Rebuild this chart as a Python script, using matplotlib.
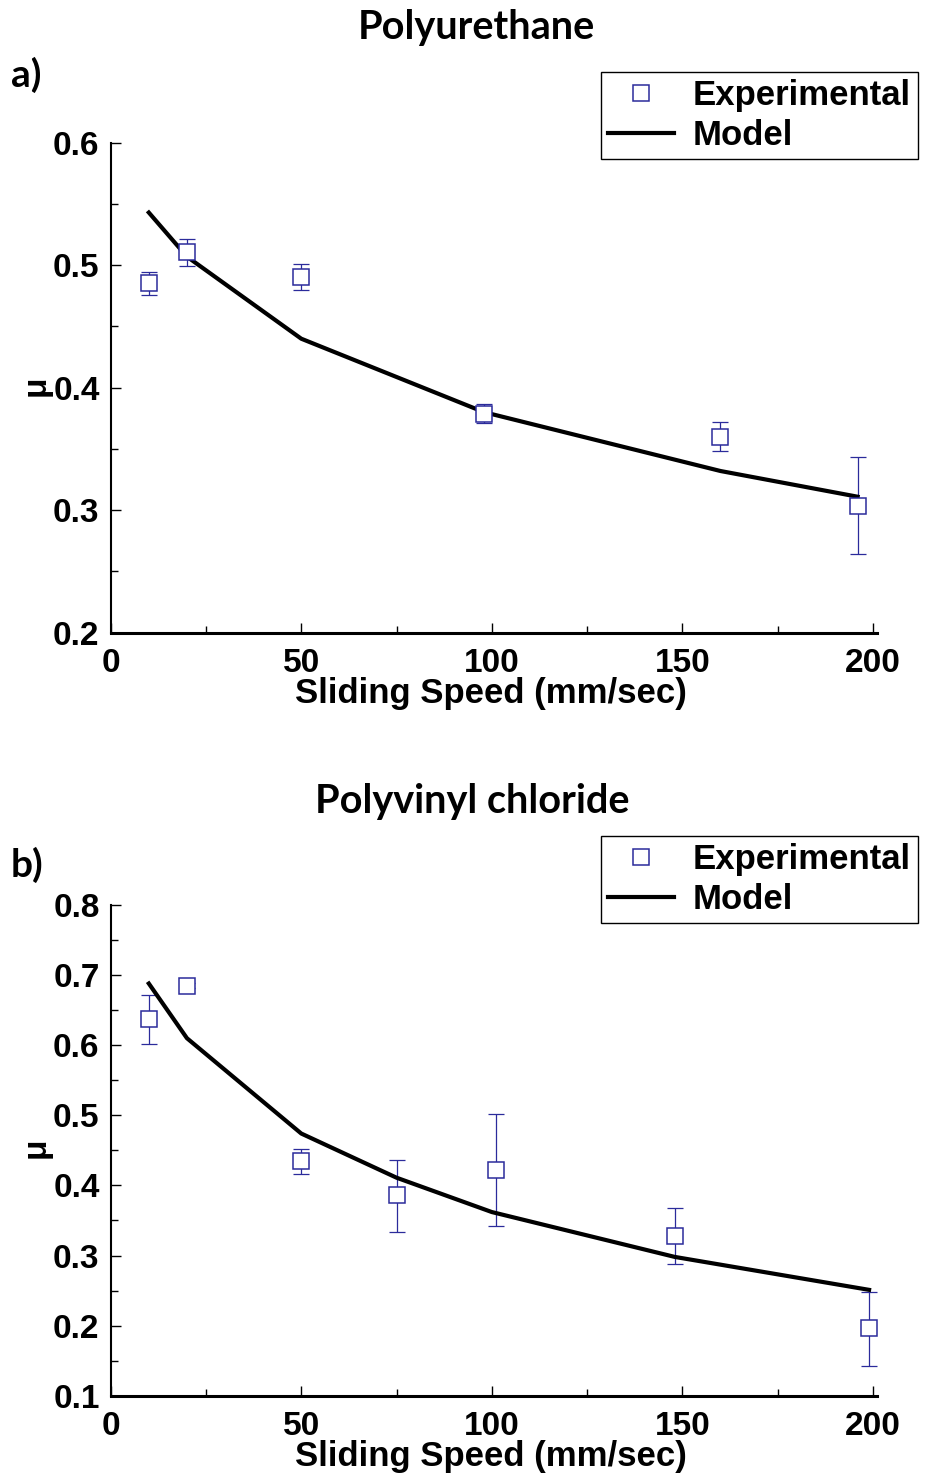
import numpy as np
from matplotlib import pyplot as plt
import matplotlib.ticker as mtick

plt.rcParams['font.family'] = ['Liberation Sans', 'DejaVu Sans']
plt.rcParams['font.weight'] = 'bold'

# Polyurethane (a)
pu_model_x = [10, 20, 50, 98, 160, 196]
pu_model_y = [0.543, 0.507, 0.440, 0.380, 0.332, 0.311]
pu_exp_x = [10, 20, 50, 98, 160, 196]
pu_exp_y = [0.4855, 0.511, 0.490, 0.3787, 0.3596, 0.3038]
pu_err_lo = [0.0095, 0.0118, 0.010, 0.0077, 0.0116, 0.0393]
pu_err_hi = [0.009, 0.010, 0.0106, 0.0083, 0.0123, 0.0395]

# Polyvinyl chloride (b)
pvc_model_x = [10, 20, 50, 75, 100, 148, 199]
pvc_model_y = [0.688, 0.610, 0.474, 0.411, 0.362, 0.298, 0.251]
pvc_exp_x = [10, 20, 50, 75, 101, 148, 199]
pvc_exp_y = [0.637, 0.685, 0.4344, 0.386, 0.4226, 0.3285, 0.196]
pvc_err_lo = [0.035, 0.004, 0.0184, 0.0527, 0.0803, 0.0404, 0.0537]
pvc_err_hi = [0.0347, 0.004, 0.0171, 0.0508, 0.0798, 0.0399, 0.052]

blue = '#2b2b9b'
W, H = 926, 1478


def draw_panel(rect, mx, my, ex, ey, elo, ehi, ylim, yticks, title, tag,
               title_xy, tag_y, leg_top):
    ax = fig.add_axes(rect)
    ax.plot(mx, my, color='black', lw=3, label='Model', zorder=3)
    ax.errorbar(ex, ey, yerr=[elo, ehi], fmt='none', ecolor=blue,
                elinewidth=0.9, capsize=6, capthick=0.9, zorder=2)
    ax.plot(ex, ey, linestyle='none', marker='s', ms=11, mfc='white',
            mec=blue, mew=1.1, label='Experimental', zorder=4)

    ax.set_xlim(0, 201)
    ax.set_ylim(*ylim)
    ax.set_xticks([0, 50, 100, 150, 200])
    ax.set_yticks(yticks)
    ax.xaxis.set_minor_locator(mtick.MultipleLocator(25))
    ax.yaxis.set_minor_locator(mtick.MultipleLocator(0.05))
    ax.yaxis.set_major_formatter(mtick.FormatStrFormatter('%.1f'))
    ax.tick_params(which='both', direction='in', width=1, labelsize=24)
    ax.tick_params(which='major', length=7)
    ax.tick_params(which='minor', length=5)
    ax.tick_params(axis='y', pad=8)
    ax.tick_params(axis='x', pad=11)
    for s in ['top', 'right']:
        ax.spines[s].set_visible(False)
    ax.spines['left'].set_linewidth(1.5)
    ax.spines['bottom'].set_linewidth(2.2)

    ax.set_xlabel('Sliding Speed (mm/sec)', fontsize=25, fontweight='bold', va='center')
    ax.xaxis.set_label_coords(0.497, -0.124)
    ax.set_ylabel('\u03bc', fontsize=24, fontweight='bold', va='center')
    ax.yaxis.set_label_coords(-0.097, 0.505)

    fig.text(title_xy[0] / W, 1 - title_xy[1] / H, title,
             fontsize=28.5, fontweight='bold', family=['Lato', 'DejaVu Sans'],
             ha='center', va='center')
    fig.text(11 / W, 1 - tag_y / H, tag, fontsize=28, fontweight='bold',
             family=['Lato', 'DejaVu Sans'], ha='left', va='center')

    h, l = ax.get_legend_handles_labels()
    leg = ax.legend([h[1], h[0]], [l[1], l[0]], loc='upper left',
                    bbox_to_anchor=(601 / W, 1 - leg_top / H),
                    bbox_transform=fig.transFigure, fancybox=False,
                    edgecolor='black', framealpha=1, fontsize=25,
                    handlelength=1.9, handletextpad=0.55, borderpad=0.2,
                    labelspacing=0.2, borderaxespad=0)
    leg.get_frame().set_linewidth(1.0)
    return ax


fig = plt.figure(figsize=(W / 100, H / 100), dpi=100)

draw_panel([110.7 / W, 1 - 632.7 / H, 766 / W, 490 / H],
           pu_model_x, pu_model_y, pu_exp_x, pu_exp_y, pu_err_lo, pu_err_hi,
           (0.2, 0.6), [0.2, 0.3, 0.4, 0.5, 0.6], 'Polyurethane', 'a)',
           (476, 27), 75, 72)

draw_panel([110.7 / W, 1 - 1395.7 / H, 766 / W, 490.7 / H],
           pvc_model_x, pvc_model_y, pvc_exp_x, pvc_exp_y, pvc_err_lo, pvc_err_hi,
           (0.1, 0.8), [0.1, 0.2, 0.3, 0.4, 0.5, 0.6, 0.7, 0.8],
           'Polyvinyl chloride', 'b)', (472, 802), 865, 836)

fig.savefig('out.png', dpi=100)
